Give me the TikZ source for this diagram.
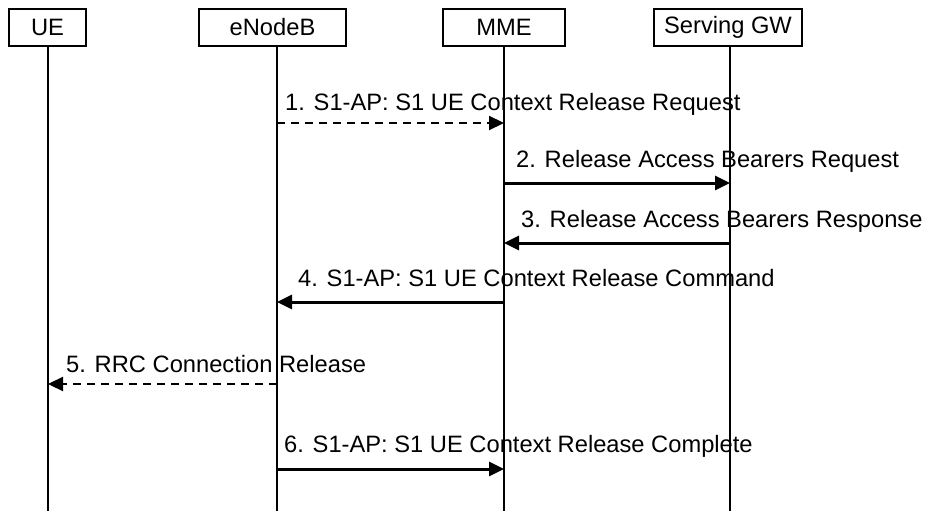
\documentclass[tikz,border=0pt]{standalone}
\usepackage{fontspec}
\setmainfont{Liberation Sans}
\usetikzlibrary{arrows.meta}
\begin{document}
\begin{tikzpicture}[x=1pt,y=-1pt,
  entity/.style={draw,line width=1.8pt,minimum height=37pt,inner sep=0pt,font=\fontsize{23.7}{28}\selectfont},
  lifeline/.style={line width=1.1pt},
  msg/.style={line width=3pt,-{Triangle[length=15pt,width=14pt]}},
  dmsg/.style={line width=2.2pt,dash pattern=on 8pt off 6pt,-{Triangle[length=15pt,width=14pt]}},
  lbl/.style={anchor=base west,inner sep=0pt,font=\fontsize{23.7}{28}\selectfont}]
\useasboundingbox (0,0) rectangle (926,511);
% entity boxes
\node[entity,minimum width=77pt] (ue) at (47.5,27.5) {UE};
\node[entity,minimum width=147pt] (enb) at (272.5,27.5) {eNodeB};
\node[entity,minimum width=122pt] (mme) at (504,27.5) {MME};
\node[entity,minimum width=148pt] (sgw) at (728,27.5) {Serving GW};
% lifelines
\coordinate (uet) at (48,46);   \coordinate (ueb) at (48,511);
\coordinate (enbt) at (277,46); \coordinate (enbb) at (277,511);
\coordinate (mmet) at (504,46); \coordinate (mmeb) at (504,511);
\coordinate (sgwt) at (730,46); \coordinate (sgwb) at (730,511);
\draw[lifeline] (uet) -- (ueb);
\draw[lifeline] (enbt) -- (enbb);
\draw[lifeline] (mmet) -- (mmeb);
\draw[lifeline] (sgwt) -- (sgwb);
% messages
\draw[dmsg] (enbt |- 0,123) -- (mmet |- 0,123);
\node[lbl] (l1) at (285,110) {1. S1-AP: S1 UE Context Release Request};
\draw[msg] (mmet |- 0,183) -- (sgwt |- 0,183);
\node[lbl] (l2) at (516,167) {2. Release Access Bearers Request};
\draw[msg] (sgwt |- 0,243) -- (mmet |- 0,243);
\node[lbl] (l3) at (521,227) {3. Release Access Bearers Response};
\draw[msg] (mmet |- 0,302) -- (enbt |- 0,302);
\node[lbl] (l4) at (298,286) {4. S1-AP: S1 UE Context Release Command};
\draw[dmsg] (enbt |- 0,384) -- (uet |- 0,384);
\node[lbl] (l5) at (66,372) {5. RRC Connection Release};
\draw[msg] (enbt |- 0,469) -- (mmet |- 0,469);
\node[lbl] (l6) at (284,452) {6. S1-AP: S1 UE Context Release Complete};
\end{tikzpicture}
\end{document}
